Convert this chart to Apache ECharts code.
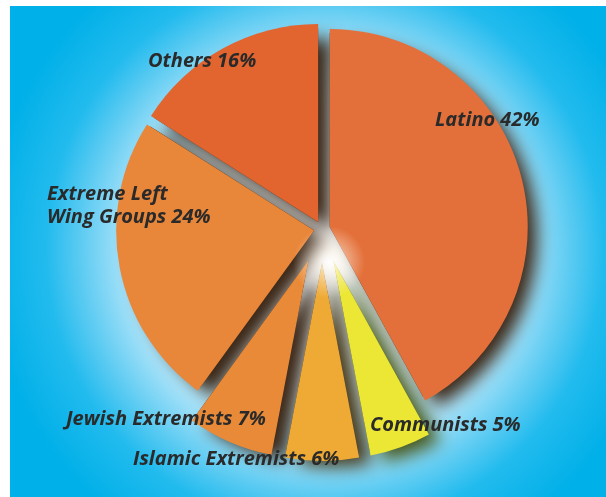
<!DOCTYPE html>
<html><head><meta charset="utf-8">
<script src="https://cdn.jsdelivr.net/npm/echarts@6/dist/echarts.min.js"></script>
<style>html,body{margin:0;padding:0;background:#fff}#c{width:606px;height:497px}</style>
</head><body><div id="c"></div>
<script>
// ---- data ----
const categories = ['Latino', 'Communists', 'Islamic Extremists', 'Jewish Extremists', 'Extreme Left Wing Groups', 'Others'];
const shares = [42, 5, 6, 7, 24, 16];

// ---- styling / layout ----
const colors = ['#e3703a', '#ece735', '#efaa35', '#e98a39', '#e8863a', '#e2642f'];
const shadowColors = ['#3a2616', '#46561a', '#46391a', '#3a2616', '#3a2616', '#3a2616'];
const explodeGroup = [0, 1, 1, 1, 0, 0];
const groupOffsets = [8, 34];
const lineBreaks = { 'Extreme Left Wing Groups': 'Extreme Left\nWing Groups' };
const labelAnchors = [[435, 120], [370, 425], [133, 459], [66, 419], [47, 206], [148, 61]];

const chart = echarts.init(document.getElementById('c'), null, { renderer: 'canvas' });

function pieSeries(g, isShadow) {
  return {
    type: 'pie',
    center: [322, 229],
    radius: isShadow ? 194 : 198,
    startAngle: 90,
    clockwise: true,
    selectedMode: 'multiple',
    selectedOffset: groupOffsets[g],
    silent: true,
    animation: false,
    z: isShadow ? 1 : 3,
    emphasis: { disabled: true },
    labelLine: { show: false },
    label: { show: false },
    data: categories.map((name, i) => {
      const mine = explodeGroup[i] === g;
      let itemStyle;
      if (!mine) itemStyle = { color: 'rgba(0,0,0,0)', borderWidth: 0 };
      else if (isShadow) itemStyle = {
        color: shadowColors[i], shadowBlur: 17, shadowColor: shadowColors[i],
        shadowOffsetX: 13, shadowOffsetY: 10
      };
      else itemStyle = { color: colors[i] };
      return { name, value: shares[i], selected: true, itemStyle };
    })
  };
}

const total = shares.reduce((a, b) => a + b, 0);
const labelGraphics = categories.map((name, i) => ({
  type: 'text', z: 200, silent: true,
  x: labelAnchors[i][0], y: labelAnchors[i][1],
  style: {
    text: (lineBreaks[name] || name) + ' ' + Math.round(shares[i] / total * 100) + '%',
    font: 'italic bold 20px "Open Sans"',
    fill: '#2a2a2a',
    lineHeight: 23,
    align: 'left',
    verticalAlign: 'middle'
  }
}));

chart.setOption({
  animation: false,
  graphic: [
    {
      type: 'rect', z: -100, silent: true,
      shape: { x: 10, y: 6, width: 596, height: 491 },
      style: {
        fill: new echarts.graphic.RadialGradient(325, 250, 340, [
          { offset: 0, color: '#ffffff' },
          { offset: 0.45, color: '#d8f3fd' },
          { offset: 0.6, color: '#a2e0f8' },
          { offset: 0.72, color: '#5ccbf2' },
          { offset: 0.82, color: '#22bbee' },
          { offset: 1, color: '#00b0e8' }
        ], true)
      }
    },
    {
      type: 'circle', z: 100, silent: true,
      shape: { cx: 329, cy: 262, r: 36 },
      style: {
        fill: new echarts.graphic.RadialGradient(0.5, 0.5, 0.5, [
          { offset: 0, color: 'rgba(255,255,255,0.95)' },
          { offset: 0.35, color: 'rgba(255,248,236,0.55)' },
          { offset: 1, color: 'rgba(255,240,225,0)' }
        ])
      }
    }
  ].concat(labelGraphics),
  series: [pieSeries(0, true), pieSeries(1, true), pieSeries(0, false), pieSeries(1, false)]
});
</script>
</body></html>
